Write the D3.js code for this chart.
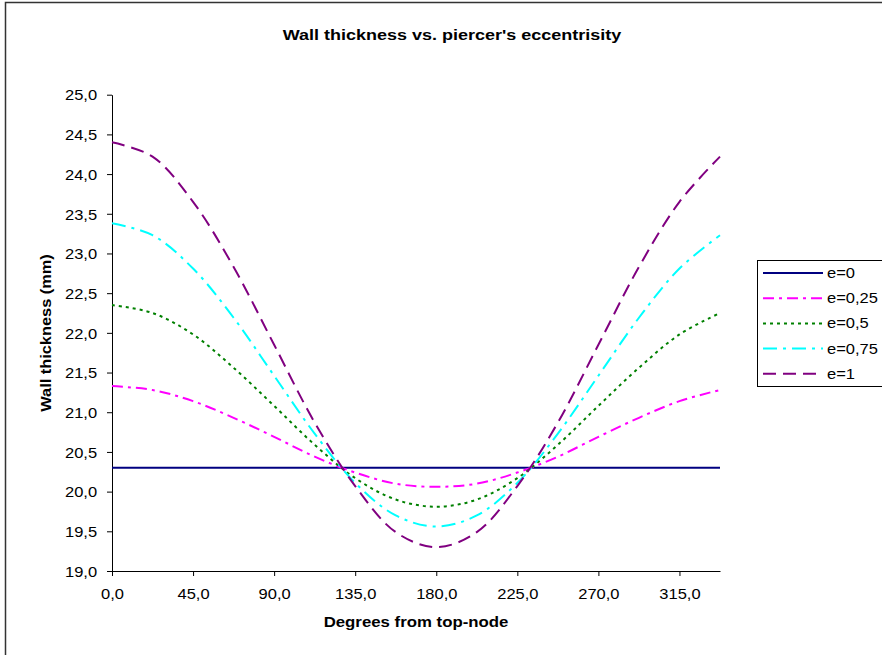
<!DOCTYPE html>
<html>
<head>
<meta charset="utf-8">
<script src="https://cdn.jsdelivr.net/npm/d3@7/dist/d3.min.js"></script>
<style>
  html, body { margin: 0; padding: 0; background: #fff; }
  svg { display: block; }
  text { font-family: "Liberation Sans", Arial, sans-serif; fill: #000; }
</style>
</head>
<body>
<script>
// ---- data ----
const angles = [0, 22.5, 45, 67.5, 90, 112.5, 135, 157.5, 180, 202.5, 225, 247.5, 270, 292.5, 315, 337.5];
const seriesNames = ["e=0", "e=0,25", "e=0,5", "e=0,75", "e=1"];
const e0   = [20.3, 20.3, 20.3, 20.3, 20.3, 20.3, 20.3, 20.3, 20.3, 20.3, 20.3, 20.3, 20.3, 20.3, 20.3, 20.3];
const e025 = [21.33, 21.28, 21.14, 20.93, 20.69, 20.44, 20.24, 20.10, 20.06, 20.10, 20.24, 20.44, 20.69, 20.93, 21.14, 21.28];
const e05  = [22.35, 22.25, 21.98, 21.56, 21.08, 20.59, 20.17, 19.90, 19.81, 19.90, 20.17, 20.59, 21.08, 21.56, 21.98, 22.25];
const e075 = [23.38, 23.23, 22.81, 22.19, 21.46, 20.73, 20.11, 19.70, 19.56, 19.70, 20.11, 20.73, 21.46, 22.19, 22.81, 23.23];
const e1   = [24.40, 24.22, 23.65, 22.83, 21.85, 20.87, 20.07, 19.49, 19.30, 19.49, 20.07, 20.87, 21.85, 22.83, 23.65, 24.22];
const xTickValues = [0, 45, 90, 135, 180, 225, 270, 315];
const yTickValues = [19, 19.5, 20, 20.5, 21, 21.5, 22, 22.5, 23, 23.5, 24, 24.5, 25];
const titleText = "Wall thickness vs. piercer's eccentrisity";
const xTitle = "Degrees from top-node";
const yTitle = "Wall thickness (mm)";

// ---- styles ----
const colors = ["#000080", "#FF00FF", "#008000", "#00FFFF", "#800080"];
const dashes = [null, "11,5,3,5", "3,4", "14,6,3,6", "13,7"];
const allSeries = [e0, e025, e05, e075, e1];

const W = 882, H = 655;
const svg = d3.select("body").append("svg").attr("width", W).attr("height", H);

// outer chart frame
svg.append("rect").attr("x", 5.5).attr("y", 2.5).attr("width", W + 20).attr("height", H + 20)
  .attr("fill", "#fff").attr("stroke", "#333").attr("stroke-width", 1.5);

const x = d3.scaleLinear().domain([0, 337.5]).range([112, 720]);
const y = d3.scaleLinear().domain([19, 25]).range([571, 94.7]);

const fmt = d => d.toFixed(1).replace(".", ",");

// stretched text helper
function stext(parent, tx, ty, str, opts) {
  const g = parent.append("g").attr("transform", `translate(${tx},${ty})` + (opts.rotate ? ` rotate(${opts.rotate})` : ""));
  return g.append("text")
    .attr("transform", `scale(${opts.sx || 1},1)`)
    .attr("text-anchor", opts.anchor || "start")
    .attr("font-size", opts.size + "px")
    .attr("font-weight", opts.bold ? "bold" : "normal")
    .text(str);
}

// title
stext(svg, 452, 40, titleText, { size: 15, bold: true, anchor: "middle", sx: 1.2 });

// axes
const xAxis = svg.append("g").attr("transform", `translate(0,${y(19)})`)
  .call(d3.axisBottom(x).tickValues(xTickValues).tickFormat(fmt).tickSize(5).tickSizeOuter(0));
const yAxis = svg.append("g").attr("transform", `translate(${x(0)},0)`)
  .call(d3.axisLeft(y).tickValues(yTickValues).tickFormat(fmt).tickSize(5).tickSizeOuter(0));

[xAxis, yAxis].forEach(a => {
  a.select(".domain").attr("stroke", "#000").attr("stroke-width", 1);
  a.selectAll(".tick line").attr("stroke", "#000").attr("stroke-width", 1);
  a.selectAll(".tick text").attr("font-family", "Liberation Sans, Arial, sans-serif")
    .attr("font-size", "15px").attr("fill", "#000");
});
xAxis.selectAll(".tick text").attr("y", 28).attr("dy", 0).attr("transform", "scale(1.1,1)");
yAxis.selectAll(".tick text").attr("x", -13.6).attr("dy", "0.35em").attr("transform", "scale(1.1,1)");

// axis titles
stext(svg, 416, 627, xTitle, { size: 14, bold: true, anchor: "middle", sx: 1.2 });
stext(svg, 51, 333, yTitle, { size: 14, bold: true, anchor: "middle", sx: 1.17, rotate: -90 });

// lines (smoothed, as in the reference)
const line = d3.line().curve(d3.curveCatmullRom.alpha(0.5))
  .x((d, i) => x(angles[i])).y(d => y(d));
allSeries.forEach((s, k) => {
  svg.append("path").datum(s)
    .attr("d", line)
    .attr("fill", "none")
    .attr("stroke", colors[k])
    .attr("stroke-width", 2)
    .attr("stroke-dasharray", dashes[k]);
});

// legend
const lg = svg.append("g");
lg.append("rect").attr("x", 757.5).attr("y", 260.5).attr("width", 140).attr("height", 126)
  .attr("fill", "#fff").attr("stroke", "#000").attr("stroke-width", 1);
seriesNames.forEach((n, k) => {
  const cy = 273 + k * 25.2;
  lg.append("line").attr("x1", 763).attr("x2", 823).attr("y1", cy).attr("y2", cy)
    .attr("stroke", colors[k]).attr("stroke-width", 2).attr("stroke-dasharray", dashes[k]);
  stext(lg, 827, cy + 5, n, { size: 14, anchor: "start", sx: 1.18 });
});
</script>
</body>
</html>
